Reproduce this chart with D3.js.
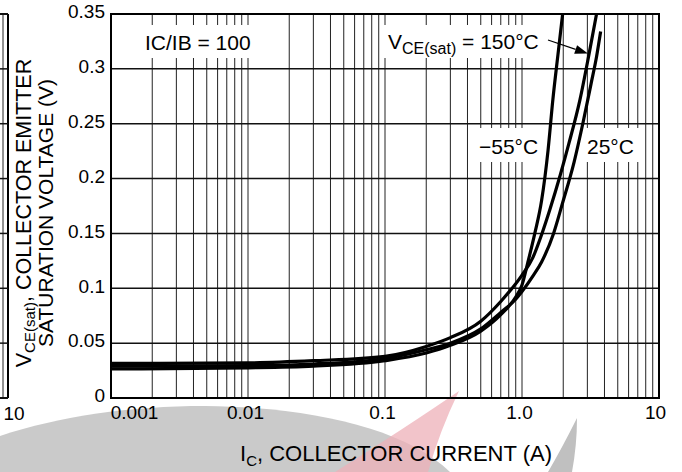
<!DOCTYPE html>
<html>
<head>
<meta charset="utf-8">
<script src="https://cdn.jsdelivr.net/npm/d3@7"></script>
<style>
  html, body { margin: 0; padding: 0; background: #fff; }
  svg { display: block; font-family: "Liberation Sans", Arial, Helvetica, sans-serif; }
</style>
</head>
<body>
<svg id="chart" width="682" height="472"></svg>
<script>
// ---------------- data ----------------
const xTickValues = [0.001, 0.01, 0.1, 1, 10];
const xTickLabels = ["0.001", "0.01", "0.1", "1.0", "10"];
const yTickValues = [0, 0.05, 0.1, 0.15, 0.2, 0.25, 0.3, 0.35];
const yTickLabels = ["0", "0.05", "0.1", "0.15", "0.2", "0.25", "0.3", "0.35"];

const seriesNames = ["−55°C", "25°C", "150°C"];

const icM55  = [0.001, 0.01, 0.03, 0.1, 0.2, 0.3, 0.5, 0.7, 0.9, 1.0, 1.1, 1.24, 1.39, 1.55, 1.68, 1.83, 1.98];
const vceM55 = [0.0265, 0.0275, 0.029, 0.034, 0.041, 0.048, 0.061, 0.076, 0.092, 0.103, 0.123, 0.150, 0.180, 0.226, 0.272, 0.313, 0.350];

const ic25   = [0.001, 0.01, 0.03, 0.1, 0.2, 0.3, 0.5, 0.7, 0.9, 1.0, 1.2, 1.39, 1.7, 1.97, 2.4, 2.8, 3.2, 3.5, 3.75];
const vce25  = [0.029, 0.0295, 0.031, 0.036, 0.044, 0.050, 0.063, 0.078, 0.090, 0.097, 0.111, 0.124, 0.150, 0.177, 0.215, 0.252, 0.287, 0.311, 0.334];

const ic150  = [0.001, 0.01, 0.03, 0.1, 0.2, 0.3, 0.5, 0.7, 1.0, 1.2, 1.4, 1.6, 1.9, 2.2, 2.65, 3.08, 3.5];
const vce150 = [0.0315, 0.032, 0.034, 0.038, 0.047, 0.055, 0.070, 0.088, 0.112, 0.128, 0.150, 0.172, 0.203, 0.232, 0.272, 0.313, 0.350];

// ---------------- layout ----------------
const svg = d3.select("#chart");
const pLeft = 111, pRight = 659, pTop = 14, pBottom = 398;
const x = d3.scaleLog().domain([0.001, 10]).range([pLeft, pRight]);
const y = d3.scaleLinear().domain([0, 0.35]).range([pBottom, pTop]);

// watermark (behind everything)
const wm = svg.append("g");
wm.append("path")
  .attr("d", "M0,436 C60,416 130,406 205,406 C310,407 405,428 450,472 L0,472 Z")
  .attr("fill", "#cacaca");
wm.append("path")
  .attr("d", "M459,391 Q405,428 335,472 L428,472 Q440,430 459,391 Z")
  .attr("fill", "#eeb0b8").attr("opacity", 0.75);
wm.append("path")
  .attr("d", "M577,418 Q562,448 548,472 L572,472 Q577,445 577,418 Z")
  .attr("fill", "#c0c0c0");

// fragment of neighbouring chart at far left
const frag = svg.append("g");
frag.append("line").attr("x1", 3).attr("x2", 3).attr("y1", pTop).attr("y2", pBottom)
  .attr("stroke", "#222").attr("stroke-width", 1);
frag.append("line").attr("x1", 8).attr("x2", 8).attr("y1", pTop).attr("y2", pBottom)
  .attr("stroke", "#000").attr("stroke-width", 2);
frag.selectAll("line.h").data(yTickValues).enter().append("line")
  .attr("x1", 0).attr("x2", 8).attr("y1", d => y(d)).attr("y2", d => y(d))
  .attr("stroke", "#111").attr("stroke-width", d => (d === 0 || d === 0.35) ? 2 : 1.5);
frag.append("text").attr("x", 14).attr("y", 420).attr("text-anchor", "middle")
  .attr("font-size", 19).text("10");

// grid
const grid = svg.append("g");
const minor = [];
[0.001, 0.01, 0.1, 1].forEach(d => { for (let k = 2; k <= 9; k++) minor.push(k * d); });
const vLines = minor.concat([0.01, 0.1, 1]);
grid.selectAll("line.v").data(vLines).enter().append("line")
  .attr("x1", d => x(d)).attr("x2", d => x(d)).attr("y1", pTop).attr("y2", pBottom)
  .attr("stroke", "#222").attr("stroke-width", 1);
grid.selectAll("line.h").data(yTickValues.slice(1, -1)).enter().append("line")
  .attr("x1", pLeft).attr("x2", pRight).attr("y1", d => y(d)).attr("y2", d => y(d))
  .attr("stroke", "#111").attr("stroke-width", 1.5);

// label boxes (white, hide grid)
const boxes = [
  [140, 25, 117, 33],
  [384, 25, 168, 33],
  [475, 128, 68, 34],
  [584, 128, 58, 34]
];
svg.append("g").selectAll("rect").data(boxes).enter().append("rect")
  .attr("x", d => d[0]).attr("y", d => d[1]).attr("width", d => d[2]).attr("height", d => d[3])
  .attr("fill", "#fff");

// curves
const line = d3.line().x(d => x(d[0])).y(d => y(d[1])).curve(d3.curveMonotoneX);
const series = [
  d3.zip(icM55, vceM55),
  d3.zip(ic25, vce25),
  d3.zip(ic150, vce150)
];
svg.append("g").selectAll("path").data(series).enter().append("path")
  .attr("d", line).attr("fill", "none").attr("stroke", "#000")
  .attr("stroke-width", 3.2).attr("stroke-linejoin", "round");

// border
svg.append("rect").attr("x", pLeft).attr("y", pTop)
  .attr("width", pRight - pLeft).attr("height", pBottom - pTop)
  .attr("fill", "none").attr("stroke", "#000").attr("stroke-width", 2);

// axes tick labels
const xAxis = d3.axisBottom(x).tickValues(xTickValues)
  .tickFormat((d, i) => xTickLabels[i]).tickSize(0).tickPadding(8);
const gx = svg.append("g").attr("transform", `translate(0,${pBottom})`).call(xAxis);
gx.select(".domain").remove();
gx.selectAll("text").attr("font-size", 19).attr("fill", "#000")
  .attr("font-family", "Liberation Sans, Arial, sans-serif")
  .attr("dx", (d, i) => i === 0 ? 23 : (i === xTickValues.length - 1 ? -4 : -3));

const yAxis = d3.axisLeft(y).tickValues(yTickValues)
  .tickFormat((d, i) => yTickLabels[i]).tickSize(0).tickPadding(6);
const gy = svg.append("g").attr("transform", `translate(${pLeft},0)`).call(yAxis);
gy.select(".domain").remove();
gy.selectAll("text").attr("font-size", 19).attr("fill", "#000")
  .attr("font-family", "Liberation Sans, Arial, sans-serif").attr("dy", "0.2em");

// axis titles
const xt = svg.append("text").attr("x", 396).attr("y", 461).attr("text-anchor", "middle")
  .attr("font-size", 22);
xt.append("tspan").text("I");
xt.append("tspan").attr("font-size", 15).attr("dy", 5).text("C");
xt.append("tspan").attr("dy", -5).text(", COLLECTOR CURRENT (A)");

const yt = svg.append("g").attr("transform", "translate(31,213) rotate(-90)");
const yt1 = yt.append("text").attr("x", 0).attr("y", 0).attr("text-anchor", "middle").attr("font-size", 21.5);
yt1.append("tspan").text("V");
yt1.append("tspan").attr("font-size", 15).attr("dy", 4).text("CE(sat)");
yt1.append("tspan").attr("dy", -4).text(", COLLECTOR EMITTER");
yt.append("text").attr("x", 0).attr("y", 22).attr("text-anchor", "middle").attr("font-size", 21)
  .text("SATURATION VOLTAGE (V)");

// annotations
svg.append("text").attr("x", 145).attr("y", 50).attr("font-size", 21).text("IC/IB = 100");

const a150 = svg.append("text").attr("x", 388).attr("y", 49).attr("font-size", 21);
a150.append("tspan").text("V");
a150.append("tspan").attr("font-size", 16).attr("dy", 5).text("CE(sat)");
a150.append("tspan").attr("dy", -5).text(" = 150°C");

svg.append("text").attr("x", 479).attr("y", 154).attr("font-size", 21).text(seriesNames[0]);
svg.append("text").attr("x", 587).attr("y", 154).attr("font-size", 21).text(seriesNames[1]);

// arrow to 150°C curve
const ai = ic150.indexOf(3.08);
const tipX = x(ic150[ai]) - 1, tipY = y(vce150[ai]) - 1;
const sx = 548, sy = 40;
const ang = Math.atan2(tipY - sy, tipX - sx);
const hl = 13, hw = 4.5;
const bx = tipX - hl * Math.cos(ang), by = tipY - hl * Math.sin(ang);
svg.append("line").attr("x1", sx).attr("y1", sy).attr("x2", bx).attr("y2", by)
  .attr("stroke", "#000").attr("stroke-width", 1.2);
svg.append("path").attr("d", `M${tipX},${tipY} L${bx - hw * Math.sin(ang)},${by + hw * Math.cos(ang)} L${bx + hw * Math.sin(ang)},${by - hw * Math.cos(ang)} Z`)
  .attr("fill", "#000");
</script>
</body>
</html>
